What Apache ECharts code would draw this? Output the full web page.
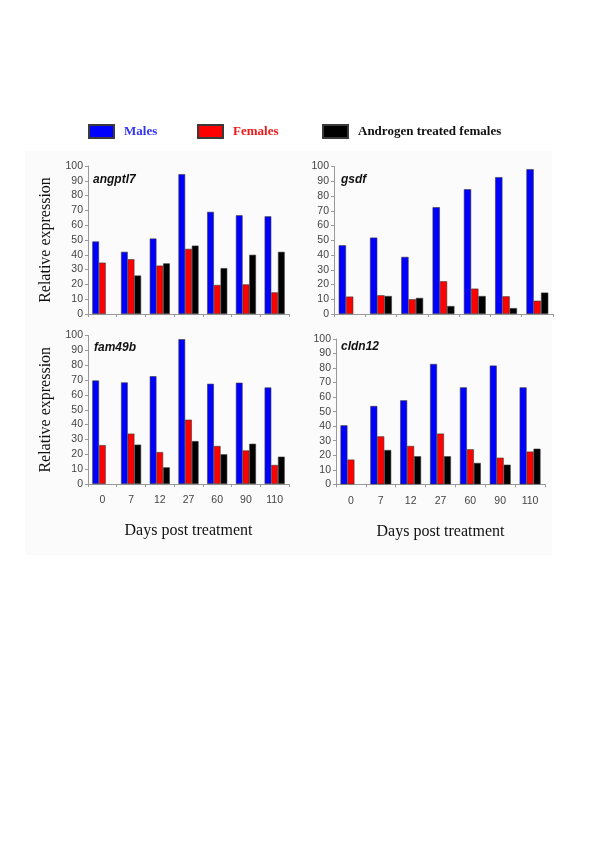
<!DOCTYPE html>
<html>
<head>
<meta charset="utf-8">
<script src="https://cdn.jsdelivr.net/npm/echarts@6/dist/echarts.min.js"></script>
<style>
html,body{margin:0;padding:0;background:#fff;}
#c{width:600px;height:849px;}
</style>
</head>
<body>
<div id="c"></div>
<script>
const days = ['0', '7', '12', '27', '60', '90', '110'];
const seriesNames = ['Males', 'Females', 'Androgen treated females'];
const geneNames = ['angptl7', 'gsdf', 'fam49b', 'cldn12'];

const angptl7Males = [49, 42, 51, 94.5, 69, 66.7, 66];
const angptl7Females = [34.7, 37, 32.7, 44, 19.6, 20, 14.6];
const angptl7Androgen = [null, 26, 34.2, 46.2, 31, 40, 42];

const gsdfMales = [46.6, 51.8, 38.7, 72.4, 84.6, 92.8, 98.2];
const gsdfFemales = [11.8, 12.7, 10, 22.2, 17.2, 12, 9];
const gsdfAndrogen = [null, 12.2, 10.9, 5.4, 12.2, 4, 14.5];

const fam49bMales = [69.7, 68.4, 72.6, 97.5, 67.5, 68.2, 65];
const fam49bFemales = [26.2, 33.9, 21.5, 43.3, 25.6, 22.6, 12.8];
const fam49bAndrogen = [null, 26.5, 11.2, 28.9, 20, 27.1, 18.4];

const cldn12Males = [40.6, 53.9, 57.8, 82.8, 66.7, 81.7, 66.7];
const cldn12Females = [17, 33, 26.4, 34.9, 24.1, 18.3, 22.5];
const cldn12Androgen = [null, 23.6, 19.3, 19.3, 14.7, 13.5, 24.5];

const panelData = [
  [angptl7Males, angptl7Females, angptl7Androgen],
  [gsdfMales, gsdfFemales, gsdfAndrogen],
  [fam49bMales, fam49bFemales, fam49bAndrogen],
  [cldn12Males, cldn12Females, cldn12Androgen]
];

const colors = ['#0000ff', '#ff0000', '#000000'];
const legendTextColors = ['#3434f0', '#f01818', '#111111'];
const legendLefts = [88, 197, 322];

const grids = [
  {left: 88, top: 166, width: 201, height: 148},
  {left: 334, top: 166.5, width: 219, height: 147.5},
  {left: 88, top: 335.5, width: 201, height: 148.5},
  {left: 336, top: 339, width: 209, height: 145.3}
];
const geneLabelPos = [[93, 174], [341, 174], [94, 342], [341, 341]];

const narrow = "'Liberation Sans Narrow', 'Liberation Sans', Arial, sans-serif";
const serif = "'Liberation Serif', 'DejaVu Serif', serif";

const xAxes = grids.map((g, i) => ({
  type: 'category',
  gridIndex: i,
  data: days,
  axisLine: {lineStyle: {color: '#999', width: 1}},
  axisTick: {show: true, length: 3, lineStyle: {color: '#999'}},
  axisLabel: {show: i >= 2, fontFamily: narrow, fontSize: 10.5, color: '#444', margin: 11},
  name: i >= 2 ? 'Days post treatment' : '',
  nameLocation: 'middle',
  nameGap: 39,
  nameTextStyle: {fontFamily: serif, fontSize: 16, color: '#111'}
}));

const yAxes = grids.map((g, i) => ({
  type: 'value',
  gridIndex: i,
  min: 0, max: 100, interval: 10,
  splitLine: {show: false},
  axisLine: {show: true, lineStyle: {color: '#999', width: 1}},
  axisTick: {show: true, length: 3, lineStyle: {color: '#999'}},
  axisLabel: {fontFamily: narrow, fontSize: 10.5, color: '#444', margin: 5},
  name: (i % 2 === 0) ? 'Relative expression' : '',
  nameLocation: 'middle',
  nameGap: 34,
  nameRotate: 90,
  nameTextStyle: {fontFamily: serif, fontSize: 16, color: '#111'}
}));

const series = [];
panelData.forEach((arrs, p) => {
  arrs.forEach((vals, k) => {
    series.push({
      type: 'bar',
      name: seriesNames[k],
      xAxisIndex: p,
      yAxisIndex: p,
      data: vals,
      barWidth: '23.3%',
      barGap: '0%',
      itemStyle: {color: colors[k], borderColor: '#3a3a3a', borderWidth: 0.6},
      emphasis: {disabled: true}
    });
  });
});

const legends = seriesNames.map((n, k) => ({
  data: [n],
  left: legendLefts[k],
  top: 124,
  padding: 0,
  itemWidth: 25,
  itemHeight: 13,
  icon: 'rect',
  textStyle: {fontFamily: serif, fontWeight: 'bold', fontSize: 13, color: legendTextColors[k], padding: [0, 0, 0, 5]}
}));

const graphics = [
  {type: 'rect', shape: {x: 25, y: 151, width: 527, height: 404}, style: {fill: '#fbfbfb'}, z: -10, silent: true}
].concat(geneNames.map((g, i) => ({
  type: 'text',
  left: geneLabelPos[i][0],
  top: geneLabelPos[i][1],
  style: {text: g, font: "italic bold 12px 'Liberation Sans', Arial, sans-serif", fill: '#111'},
  z: 10
})));

const chart = echarts.init(document.getElementById('c'), null, {renderer: 'canvas'});
chart.setOption({
  animation: false,
  backgroundColor: '#ffffff',
  legend: legends,
  grid: grids,
  xAxis: xAxes,
  yAxis: yAxes,
  series: series,
  graphic: graphics
});
</script>
</body>
</html>
